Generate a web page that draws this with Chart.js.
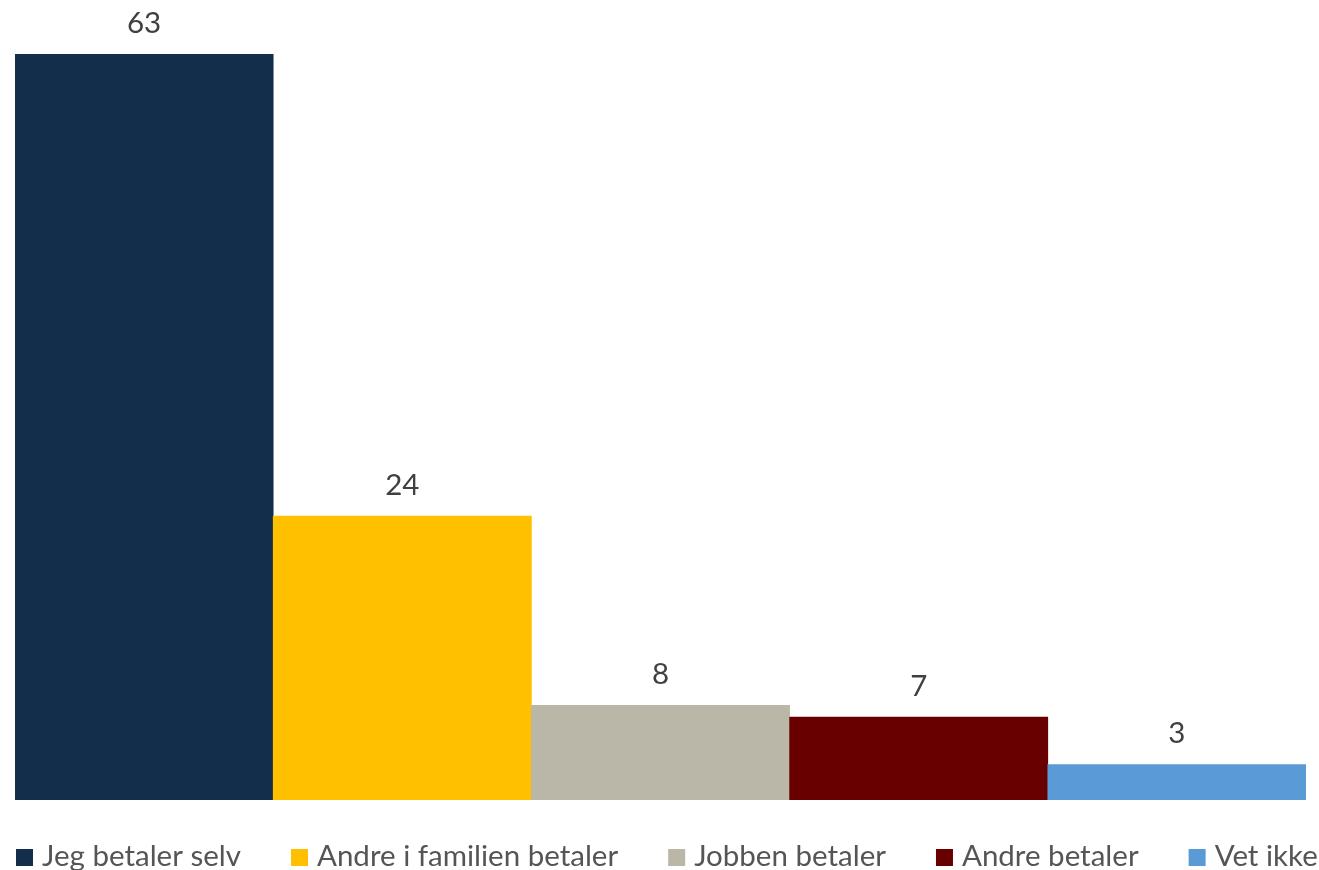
<!DOCTYPE html>
<html>
<head>
<meta charset="utf-8">
<script src="https://cdn.jsdelivr.net/npm/chart.js@4/dist/chart.umd.min.js"></script>
<style>
  html, body { margin: 0; padding: 0; background: #fff; overflow: hidden; }
  #wrap { width: 1319px; height: 870px; }
</style>
</head>
<body>
<div id="wrap"><canvas id="bar-chart"></canvas></div>
<script>
// Who pays (percent)
const categories = ['Jeg betaler selv', 'Andre i familien betaler', 'Jobben betaler', 'Andre betaler', 'Vet ikke'];
const values = [63, 24, 8, 7, 3];
const colors = ['#122e4b', '#ffc000', '#bab6a8', '#690000', '#5b9bd5'];

const FONT = 'Lato, "Noto Sans", sans-serif';

// value above each bar
const valueLabels = {
    id: 'valueLabels',
    afterDatasetsDraw(chart) {
        const ctx = chart.ctx;
        const meta = chart.getDatasetMeta(0);
        ctx.save();
        ctx.font = '29.5px ' + FONT;
        ctx.fillStyle = '#404040';
        ctx.textAlign = 'center';
        ctx.textBaseline = 'alphabetic';
        meta.data.forEach((bar, i) => {
            ctx.fillText(String(values[i]), bar.x, bar.y - 21);
        });
        ctx.restore();
    }
};

// single-row legend along the bottom edge, left aligned
const bottomLegend = {
    id: 'bottomLegend',
    afterDraw(chart) {
        const ctx = chart.ctx;
        const ds = chart.data.datasets[0];
        ctx.save();
        ctx.font = '29.5px ' + FONT;
        ctx.textBaseline = 'alphabetic';
        ctx.textAlign = 'left';
        let x = 16;
        const baseline = 866;
        chart.data.labels.forEach((label, i) => {
            ctx.fillStyle = ds.backgroundColor[i];
            ctx.fillRect(x, 849, 17, 17);
            ctx.fillStyle = '#555555';
            ctx.fillText(label, x + 26, baseline);
            x += 26 + ctx.measureText(label).width + 50;
        });
        ctx.restore();
    }
};

new Chart(document.getElementById('bar-chart').getContext('2d'), {
    type: 'bar',
    data: {
        labels: categories,
        datasets: [{
            data: values,
            backgroundColor: colors,
            borderWidth: 0,
            categoryPercentage: 1,
            barPercentage: 1
        }]
    },
    options: {
        responsive: true,
        maintainAspectRatio: false,
        animation: false,
        layout: { padding: { left: 15, right: 13, top: 0, bottom: 70 } },
        plugins: {
            legend: { display: false },
            tooltip: { enabled: false }
        },
        scales: {
            x: { display: false },
            y: { display: false, min: 0, max: 67.6 }
        }
    },
    plugins: [valueLabels, bottomLegend]
});
</script>
</body>
</html>
